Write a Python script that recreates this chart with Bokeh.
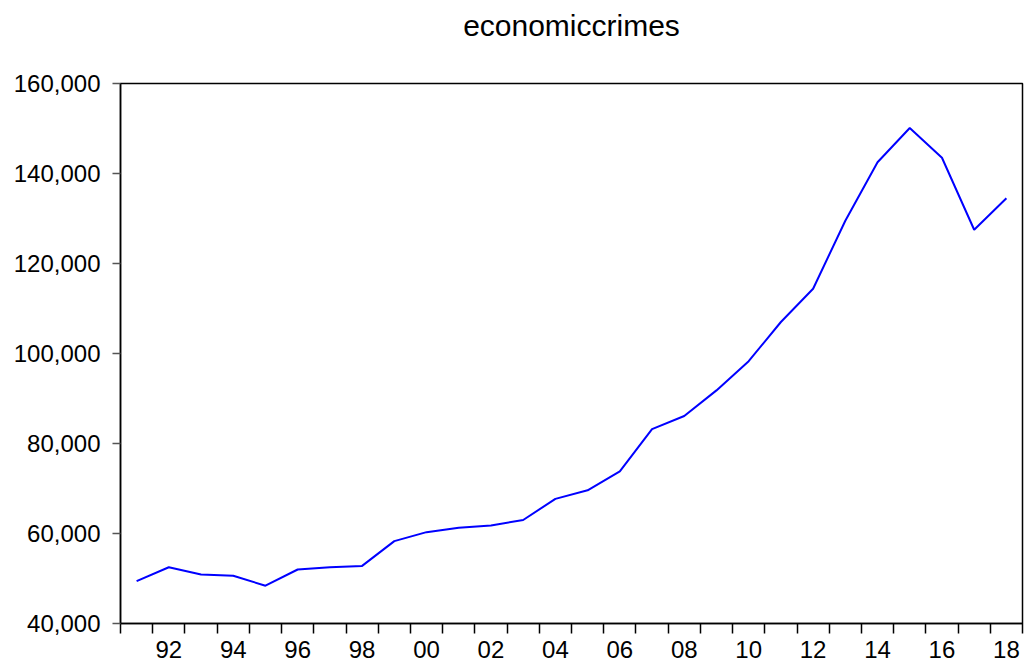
from bokeh.plotting import figure
from bokeh.models import FixedTicker, NumeralTickFormatter, Range1d, LinearAxis
from bokeh.embed import file_html
from bokeh.resources import INLINE

years = list(range(1991, 2019))
values = [49400, 52500, 50900, 50600, 48400, 52000, 52500, 52800, 58300, 60300,
          61300, 61800, 63000, 67700, 69600, 73800, 83200, 86100, 91800, 98300,
          107000, 114400, 129500, 142500, 150100, 143500, 127500, 134500]
label_years = list(range(1992, 2019, 2))
y_ticks = [40000, 60000, 80000, 100000, 120000, 140000, 160000]
title_text = "economiccrimes"

FONT = "Liberation Sans"

p = figure(frame_width=902, frame_height=540, output_backend="svg", toolbar_location=None,
           x_range=Range1d(1990.5, 2018.5), y_range=Range1d(40000, 160000))
p.min_border_left = 120
p.min_border_right = 5
p.min_border_top = 83
p.min_border_bottom = 44

xa = p.below[0]
ya = p.left[0]

# title drawn as the label of an otherwise empty top axis
top = LinearAxis(ticker=FixedTicker(ticks=[], minor_ticks=[]),
                 axis_label=title_text, axis_label_standoff=42,
                 axis_label_text_font=FONT, axis_label_text_font_size="30px",
                 axis_label_text_font_style="normal", axis_label_text_color="black",
                 axis_line_color=None, major_tick_line_color=None,
                 minor_tick_line_color=None, major_label_text_font_size="0px",
                 major_tick_out=0, major_tick_in=0, minor_tick_out=0, minor_tick_in=0,
                 major_label_standoff=0)
p.add_layout(top, "above")

p.line(years, values, line_color="#0000FF", line_width=2)

p.xgrid.visible = False
p.ygrid.visible = False
p.outline_line_color = "black"
p.outline_line_width = 1.5
p.background_fill_color = "white"
p.border_fill_color = "white"

xa.ticker = FixedTicker(ticks=label_years,
                        minor_ticks=[y - 0.5 for y in years] + [2018.5])
xa.major_label_overrides = {y: f"{y % 100:02d}" for y in label_years}
xa.major_tick_out = 0
xa.major_tick_in = 0
xa.minor_tick_out = 10
xa.minor_tick_in = 0
xa.minor_tick_line_color = "black"
xa.minor_tick_line_width = 1.5
xa.major_label_standoff = 7
xa.major_label_text_font = FONT
xa.major_label_text_font_size = "24px"
xa.major_label_text_color = "black"
xa.axis_line_color = "black"
xa.axis_line_width = 1.5

ya.ticker = FixedTicker(ticks=y_ticks, minor_ticks=[])
ya.formatter = NumeralTickFormatter(format="0,0")
ya.major_tick_out = 8
ya.major_tick_in = 0
ya.minor_tick_out = 0
ya.minor_tick_in = 0
ya.major_tick_line_color = "#555555"
ya.major_tick_line_width = 1.5
ya.major_label_standoff = 12
ya.major_label_text_font = FONT
ya.major_label_text_font_size = "24px"
ya.major_label_text_color = "black"
ya.axis_line_color = "black"
ya.axis_line_width = 1.5

open("out.html", "w").write(file_html(p, INLINE))
